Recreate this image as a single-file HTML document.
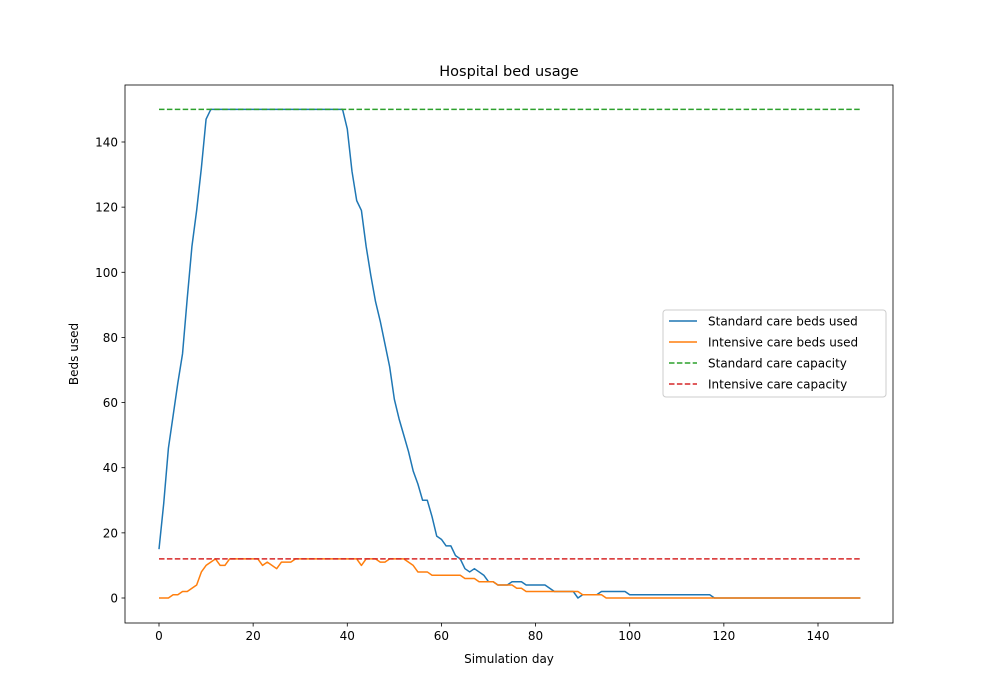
<!DOCTYPE html>
<html><head><meta charset="utf-8"><style>
body{margin:0;background:#fff;}
svg{display:block;font-family:"DejaVu Sans","Liberation Sans",sans-serif;}
</style></head><body>
<svg id="chart" width="993" height="700">
<rect x="0" y="0" width="993" height="700" fill="#fff"/>
<g id="plot"></g>
</svg>
<script>
const days = Array.from({length:150},(_,i)=>i);
const standardBeds = [15,29,46,56,66,75,92,108,119,132,147,150,150,150,150,150,150,150,150,150,150,150,150,150,150,150,150,150,150,150,150,150,150,150,150,150,150,150,150,150,144,131,122,119,108,99,91,85,78,71,61,55,50,45,39,35,30,30,25,19,18,16,16,13,12,9,8,9,8,7,5,5,4,4,4,5,5,5,4,4,4,4,4,3,2,2,2,2,2,0,1,1,1,1,2,2,2,2,2,2,1,1,1,1,1,1,1,1,1,1,1,1,1,1,1,1,1,1,0,0,0,0,0,0,0,0,0,0,0,0,0,0,0,0,0,0,0,0,0,0,0,0,0,0,0,0,0,0,0,0];
const intensiveBeds = [0,0,0,1,1,2,2,3,4,8,10,11,12,10,10,12,12,12,12,12,12,12,10,11,10,9,11,11,11,12,12,12,12,12,12,12,12,12,12,12,12,12,12,10,12,12,12,11,11,12,12,12,12,11,10,8,8,8,7,7,7,7,7,7,7,6,6,6,5,5,5,5,4,4,4,4,3,3,2,2,2,2,2,2,2,2,2,2,2,2,1,1,1,1,1,0,0,0,0,0,0,0,0,0,0,0,0,0,0,0,0,0,0,0,0,0,0,0,0,0,0,0,0,0,0,0,0,0,0,0,0,0,0,0,0,0,0,0,0,0,0,0,0,0,0,0,0,0,0,0];
const standardCapacity = [150];
const intensiveCapacity = [12];
const xTicks = [0,20,40,60,80,100,120,140];
const yTicks = [0,20,40,60,80,100,120,140];

const L=125,R=893,T=85,B=623;
const xs = d => 159 + d*(818-159)/140;
const ys = v => 598 - v*(598-142)/140;
const NS="http://www.w3.org/2000/svg";
const g=document.getElementById('plot');
function mk(tag,attrs,parent){const e=document.createElementNS(NS,tag);for(const k in attrs)e.setAttribute(k,attrs[k]);(parent||g).appendChild(e);return e;}

function line(vals,color,name){
  const p=mk('polyline',{points:vals.map((v,i)=>xs(days[i])+','+ys(v)).join(' '),fill:'none',stroke:color,'stroke-width':1.5,'stroke-linejoin':'round'});
  
  
}
function hline(v,color,name){
  const p=mk('line',{x1:xs(0),x2:xs(149),y1:ys(v),y2:ys(v),stroke:color,'stroke-width':1.5,'stroke-dasharray':'5.5,2.4'});
  
  
}
line(standardBeds,'#1f77b4','standard-care-line');
line(intensiveBeds,'#ff7f0e','intensive-care-line');
hline(standardCapacity[0],'#2ca02c','standard-capacity-line');
hline(intensiveCapacity[0],'#d62728','intensive-capacity-line');

const frame=mk('rect',{x:L,y:T,width:R-L,height:B-T,fill:'none',stroke:'#000','stroke-width':0.8});



xTicks.forEach(t=>{
  mk('line',{x1:xs(t),x2:xs(t),y1:B,y2:B+3.5,stroke:'#000','stroke-width':0.8});
  const tx=mk('text',{x:xs(t),y:B+17,'font-size':12,'text-anchor':'middle'});tx.textContent=t;
  
  
});
yTicks.forEach(t=>{
  mk('line',{x1:L,x2:L-3.5,y1:ys(t),y2:ys(t),stroke:'#000','stroke-width':0.8});
  const tx=mk('text',{x:L-7,y:ys(t)+4.5,'font-size':12,'text-anchor':'end'});tx.textContent=t;
  
  
});
const title=mk('text',{x:509,y:76,'font-size':14.5,'text-anchor':'middle'});title.textContent='Hospital bed usage';


const xl=mk('text',{x:509,y:663,'font-size':12,'text-anchor':'middle'});xl.textContent='Simulation day';


const yl=mk('text',{x:78,y:354,'font-size':12,'text-anchor':'middle',transform:'rotate(-90 78 354)'});yl.textContent='Beds used';



const lg=mk('g',{});


mk('rect',{x:663,y:310,width:223,height:87,rx:3,fill:'#fff',stroke:'#ccc','stroke-width':1},lg);
const items=[['Standard care beds used','#1f77b4',false],['Intensive care beds used','#ff7f0e',false],['Standard care capacity','#2ca02c',true],['Intensive care capacity','#d62728',true]];
items.forEach((it,i)=>{
  const y=321+i*21;
  const e=mk('g',{},lg);
  
  
  const a={x1:669,x2:697,y1:y,y2:y,stroke:it[1],'stroke-width':1.5};
  if(it[2])a['stroke-dasharray']='5.5,2.4';
  mk('line',a,e);
  const t=mk('text',{x:708,y:y+4.5,'font-size':12},e);t.textContent=it[0];
});
</script>
</body></html>
